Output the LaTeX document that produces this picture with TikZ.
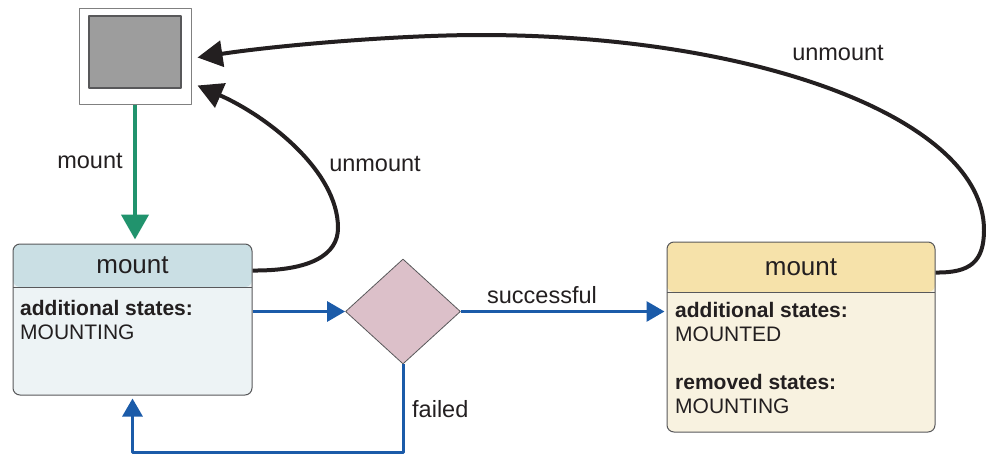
\documentclass[tikz,border=0pt]{standalone}
\usepackage{fontspec}
\setmainfont{Liberation Sans}
\usetikzlibrary{arrows.meta,shapes.geometric}
\definecolor{hdrblue}{HTML}{CADFE4}
\definecolor{bodyblue}{HTML}{EDF3F5}
\definecolor{hdryellow}{HTML}{F6E2AA}
\definecolor{bodyyellow}{HTML}{F8F2E0}
\definecolor{decpink}{HTML}{DCC0C9}
\definecolor{flowblue}{HTML}{1B5BA9}
\definecolor{mountgreen}{HTML}{21936D}
\definecolor{inkblack}{HTML}{231F20}
\definecolor{bordergray}{HTML}{58585A}
\definecolor{squaregray}{HTML}{9D9D9D}
\tikzset{
	statebox/.style 2 args={draw=bordergray, line width=1pt, rounded corners=7pt, inner sep=0pt,
		path picture={
			\fill[#1] (path picture bounding box.north west) rectangle ([yshift=-#2]path picture bounding box.north east);
			\draw[bordergray, line width=1pt] ([yshift=-#2]path picture bounding box.north west) -- ([yshift=-#2]path picture bounding box.north east);
		}},
	hdrtext/.style={inner sep=0pt, text=inkblack, font=\fontsize{26}{30}\selectfont},
	bodytext/.style={inner sep=0pt, text=inkblack, align=left, anchor=north west, font=\fontsize{21}{24}\selectfont},
	lbl/.style={inner sep=0pt, text=inkblack, anchor=base, font=\fontsize{23.5}{28}\selectfont},
	blueflow/.style={flowblue, line width=3pt, -{Triangle[length=18pt,width=20pt]}},
	blackflow/.style={inkblack, line width=4pt, -{Triangle[length=25pt,width=26pt]}},
}
\begin{document}
\begin{tikzpicture}[x=1pt, y=-1pt, line join=round]
	\useasboundingbox (0,0) rectangle (986,455);
	% initial state
	\node[draw=gray, line width=1pt, fill=white, minimum width=112pt, minimum height=96pt, inner sep=0pt] (init) at (135,56) {};
	\node[draw=bordergray, line width=1.2pt, fill=squaregray, minimum width=92pt, minimum height=72pt, inner sep=0pt] (initin) at (135,52) {};
	% states
	\node[statebox={hdrblue}{43pt}, fill=bodyblue, minimum width=239pt, minimum height=151pt] (st1) at (132.5,319.5) {};
	\node[hdrtext] (st1hdr) at (132.5,265.5) {mount};
	\node[bodytext] (st1txt) at (20,300) {\textbf{additional states:}\\MOUNTING};
	\node[statebox={hdryellow}{50pt}, fill=bodyyellow, minimum width=268pt, minimum height=190pt] (st2) at (801,337) {};
	\node[hdrtext] (st2hdr) at (801,267) {mount};
	\node[bodytext] (st2txt) at (675,302) {\textbf{additional states:}\\MOUNTED\\[24pt]\textbf{removed states:}\\MOUNTING};
	% decision
	\node[diamond, draw=bordergray, line width=0.8pt, fill=decpink, minimum width=115pt, minimum height=105pt, inner sep=0pt] (dec) at (403,311.5) {};
	% connectors
	\draw[mountgreen, line width=4.5pt, -{Triangle[length=25pt,width=27pt]}, shorten >=4pt] (init.south) -- (init.south |- st1.north);
	\draw[blueflow] (st1.east |- dec.west) -- (dec.west);
	\draw[blueflow, shorten >=2pt] (dec.east) -- (st2.west |- dec.east);
	\draw[blueflow, shorten >=3pt] (dec.south) -- (dec.south |- 0,452) -| (st1.south);
	\draw[blackflow] ([yshift=-27pt]st1.north east) .. controls (310,271) and (338,255) .. (338,228)
		.. controls (338,170) and (265,115) .. ([xshift=6pt,yshift=19pt]init.south east);
	\draw[blackflow] ([yshift=-31pt]st2.north east) .. controls (970,273) and (984,262) .. (984,230)
		.. controls (984,120) and (760,35) .. (480,35)
		.. controls (400,35) and (280,45) .. ([xshift=6pt,yshift=-50pt]init.north east);
	% labels
	\node[lbl] (lmount) at (90,168) {mount};
	\node[lbl] (lunmount1) at (375,171) {unmount};
	\node[lbl] (lunmount2) at (838,60) {unmount};
	\node[lbl] (lsucc) at (542,303) {successful};
	\node[lbl, anchor=base west] (lfail) at (412,417) {failed};
\end{tikzpicture}
\end{document}
